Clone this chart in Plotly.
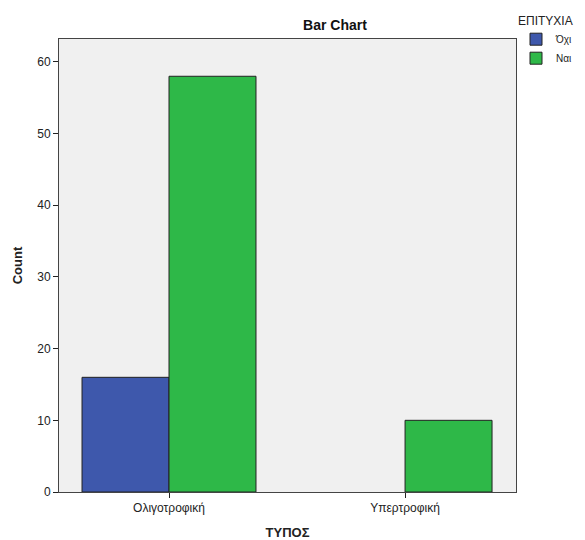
import plotly.graph_objects as go

categories = ["Ολιγοτροφική", "Υπερτροφική"]
ochi = [16, None]
nai = [58, 10]
series_names = ["Όχι", "Ναι"]

fig = go.Figure()
fig.add_trace(go.Bar(x=categories, y=ochi, name=series_names[0],
                     marker=dict(color="#3e58ac", line=dict(color="#222222", width=1))))
fig.add_trace(go.Bar(x=categories, y=nai, name=series_names[1],
                     marker=dict(color="#2eb848", line=dict(color="#222222", width=1))))

# page body adds an 8px margin, so the figure is a bit smaller than the window
fig.update_layout(
    width=577, height=532,
    barmode="group", bargap=0.263, bargroupgap=0,
    paper_bgcolor="white", plot_bgcolor="#f0f0f0",
    font=dict(family="Liberation Sans, Arial", size=11, color="#222222"),
    margin=dict(l=51, r=69, t=31, b=48, autoexpand=False),
    title=dict(text="<b>Bar Chart</b>", x=327/577, xanchor="center", y=1 - 17/532, yanchor="middle",
               font=dict(size=14, color="#111111")),
    legend=dict(title=dict(text="ΕΠΙΤΥΧΙΑ", font=dict(size=12)), x=1.0, xanchor="left", y=1.066, yanchor="top",
                font=dict(size=10), bgcolor="rgba(0,0,0,0)", itemwidth=30, tracegroupgap=0),
    xaxis=dict(range=[-0.466, 1.47], showline=True, linecolor="#444444", linewidth=1, mirror=True,
               ticks="outside", ticklen=5, tickcolor="#222222", showgrid=False, automargin=False,
               title=dict(text="<b>ΤΥΠΟΣ</b>", font=dict(size=13), standoff=20),
               tickfont=dict(size=12)),
    yaxis=dict(range=[0, 63.2], dtick=10, showline=True, linecolor="#444444", linewidth=1, mirror=True,
               ticks="outside", ticklen=5, tickcolor="#222222", showgrid=False, zeroline=False,
               automargin=False,
               title=dict(text="<b>Count</b>", font=dict(size=13), standoff=11),
               tickfont=dict(size=12)),
    showlegend=True,
)

fig.write_html("out.html")
